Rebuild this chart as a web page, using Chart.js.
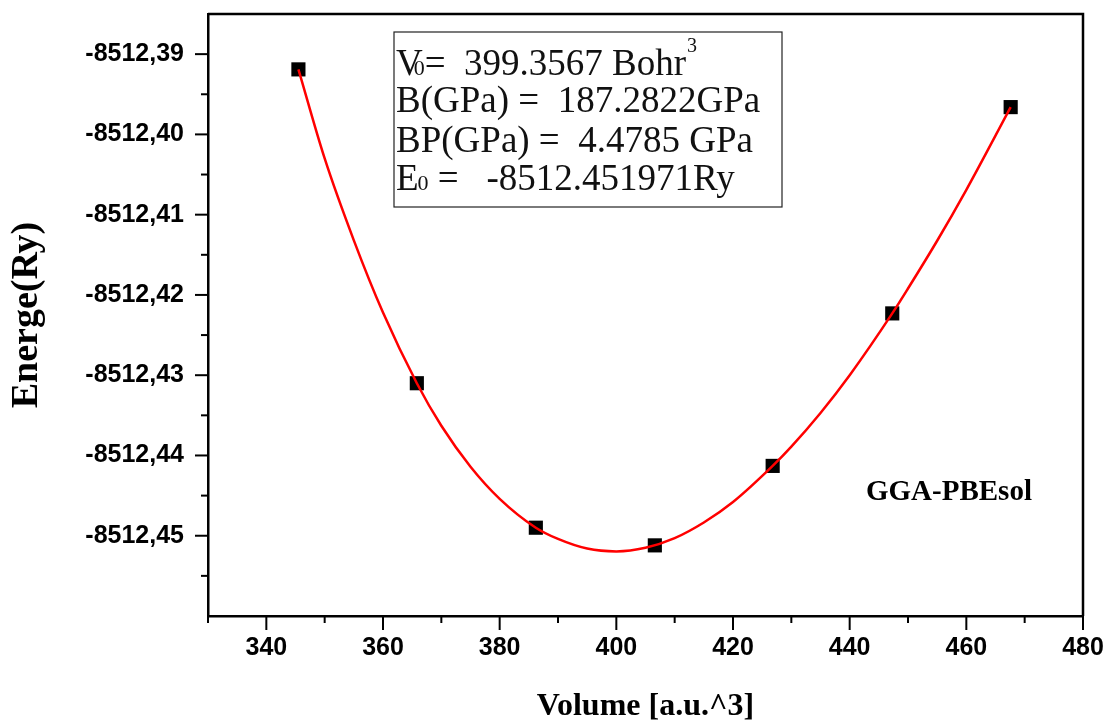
<!DOCTYPE html>
<html>
<head>
<meta charset="utf-8">
<title>Energy vs Volume</title>
<script src="https://cdn.jsdelivr.net/npm/chart.js@4.4.1/dist/chart.umd.min.js"></script>
<style>
  html, body { margin: 0; padding: 0; background: #fff; }
  #chart { display: block; }
</style>
</head>
<body>
<canvas id="chart" width="1109" height="726"></canvas>
<script>
// calculated points (black squares)
const volumes = [345.5, 365.8, 386.2, 406.6, 426.8, 447.3, 467.6];
const energies = [-8512.3919, -8512.4310, -8512.4490, -8512.4512, -8512.4413, -8512.4223, -8512.3966];

// fitted E(V) curve
const fitVolumes = [345.5, 350, 355, 360, 365.8, 370, 375, 380, 386.2, 390, 395, 400, 405, 410, 415, 420, 426.8, 430, 435, 440, 447.3, 450, 455, 460, 467.6];
const fitEnergies = [-8512.3919, -8512.4030, -8512.4132, -8512.4222, -8512.4310, -8512.4363, -8512.4414, -8512.4454,
  -8512.4490, -8512.4504, -8512.4516, -8512.45195, -8512.4515, -8512.4503, -8512.44835, -8512.4458,
  -8512.4413, -8512.4389, -8512.4347, -8512.4300, -8512.4223, -8512.4192, -8512.41325, -8512.4069, -8512.3966];

// axis ranges
const xMin = 330, xMax = 480, xStep = 10;
const yMin = -8512.46, yMax = -8512.385, yStep = 0.005;

// fit results box
const fitLines = [
  ['V', '0', '=  399.3567 Bohr', '3'],
  ['B(GPa) =  187.2822GPa'],
  ['BP(GPa) =  4.4785 GPa'],
  ['E', '0', ' =   -8512.451971Ry']
];
const methodLabel = 'GGA-PBEsol';

const pts = volumes.map((v, i) => ({ x: v, y: energies[i] }));
const fitPts = fitVolumes.map((v, i) => ({ x: v, y: fitEnergies[i] }));

const frameAndTicks = {
  id: 'frameAndTicks',
  afterDraw(chart) {
    const { ctx, chartArea: a, scales: { x, y } } = chart;
    ctx.save();
    ctx.strokeStyle = '#000';
    ctx.lineWidth = 2.5;
    ctx.beginPath();
    ctx.moveTo(a.left, a.top);
    ctx.lineTo(a.right, a.top);
    ctx.lineTo(a.right, a.bottom);
    ctx.stroke();

    ctx.lineWidth = 2;
    x.ticks.forEach((t) => {
      const px = x.getPixelForValue(t.value);
      const len = t.label ? 14 : 7;
      ctx.beginPath();
      ctx.moveTo(px, a.bottom);
      ctx.lineTo(px, a.bottom + len);
      ctx.stroke();
    });
    y.ticks.forEach((t) => {
      if (t.value <= y.min + 1e-6 || t.value >= y.max - 1e-6) return;
      const py = y.getPixelForValue(t.value);
      const len = t.label ? 13 : 7;
      ctx.beginPath();
      ctx.moveTo(a.left, py);
      ctx.lineTo(a.left - len, py);
      ctx.stroke();
    });
    ctx.restore();
  }
};

const annotations = {
  id: 'annotations',
  afterDraw(chart) {
    const { ctx } = chart;
    ctx.save();
    // results box
    ctx.strokeStyle = '#222';
    ctx.lineWidth = 1.2;
    ctx.strokeRect(394, 32, 388, 175);

    ctx.fillStyle = '#111';
    ctx.textBaseline = 'alphabetic';
    ctx.textAlign = 'left';
    const big = '37px "Liberation Serif", "Times New Roman", serif';
    const small = '22px "Liberation Serif", "Times New Roman", serif';
    const baselines = [75, 112, 152, 190];
    fitLines.forEach((parts, i) => {
      let cx = 396;
      const by = baselines[i];
      ctx.font = big;
      ctx.fillText(parts[0], cx, by);
      if (parts.length === 1) return;
      cx += ctx.measureText(parts[0]).width - (parts[0] === 'V' ? 9 : 1);
      ctx.font = small;
      ctx.fillText(parts[1], cx, by);
      cx += ctx.measureText(parts[1]).width;
      ctx.font = big;
      ctx.fillText(parts[2], cx, by);
      cx += ctx.measureText(parts[2]).width;
      if (parts[3]) {
        ctx.font = '20px "Liberation Serif", "Times New Roman", serif';
        ctx.fillText(parts[3], cx + 1, by - 23);
      }
    });

    ctx.font = 'bold 29px "Liberation Serif", "Times New Roman", serif';
    ctx.fillStyle = '#000';
    ctx.fillText(methodLabel, 866, 500);
    ctx.restore();
  }
};

new Chart(document.getElementById('chart'), {
  type: 'scatter',
  data: {
    datasets: [
      {
        type: 'line',
        label: 'fit',
        data: fitPts,
        borderColor: '#ff0000',
        borderWidth: 2.5,
        pointRadius: 0,
        fill: false,
        cubicInterpolationMode: 'monotone',
        order: 0
      },
      {
        type: 'scatter',
        label: 'calc',
        data: pts,
        pointStyle: 'rect',
        pointRadius: 10,
        backgroundColor: '#000',
        borderColor: '#000',
        borderWidth: 0,
        order: 1
      }
    ]
  },
  options: {
    responsive: false,
    devicePixelRatio: 1,
    animation: false,
    layout: { padding: { left: 0, top: 14, right: 26, bottom: 0 } },
    plugins: { legend: { display: false }, tooltip: { enabled: false } },
    scales: {
      x: {
        type: 'linear',
        min: xMin,
        max: xMax,
        afterFit: (s) => { s.height = 110; s.paddingLeft = 0; s.paddingRight = 0; },
        grid: { display: false, drawTicks: false },
        border: { display: true, color: '#000', width: 2.5 },
        ticks: {
          stepSize: xStep,
          autoSkip: false,
          maxRotation: 0,
          padding: 17,
          color: '#000',
          font: { family: '"Liberation Sans", Arial, sans-serif', size: 25, weight: 'bold' },
          callback: (v) => (v % 20 === 0 ? String(v) : '')
        },
        title: {
          display: true,
          text: 'Volume [a.u.^3]',
          color: '#000',
          padding: { top: 0, bottom: 0 },
          font: { family: '"Liberation Serif", "Times New Roman", serif', size: 32, weight: 'bold' }
        }
      },
      y: {
        type: 'linear',
        min: yMin,
        max: yMax,
        afterFit: (s) => { s.width = 208; s.paddingTop = 0; s.paddingBottom = 0; },
        grid: { display: false, drawTicks: false },
        border: { display: true, color: '#000', width: 2.5 },
        ticks: {
          stepSize: yStep,
          autoSkip: false,
          padding: 24,
          color: '#000',
          font: { family: '"Liberation Sans", Arial, sans-serif', size: 25, weight: 'bold' },
          callback: (v) => {
            if (v <= yMin + 1e-6) return '';
            const k = Math.round(v * 1000);
            return k % 10 === 0 ? v.toFixed(2).replace('.', ',') : '';
          }
        },
        title: {
          display: true,
          text: 'Energe(Ry)',
          color: '#000',
          padding: { top: 4, bottom: 0 },
          font: { family: '"Liberation Serif", "Times New Roman", serif', size: 38, weight: 'bold' }
        }
      }
    }
  },
  plugins: [frameAndTicks, annotations]
});
</script>
</body>
</html>
